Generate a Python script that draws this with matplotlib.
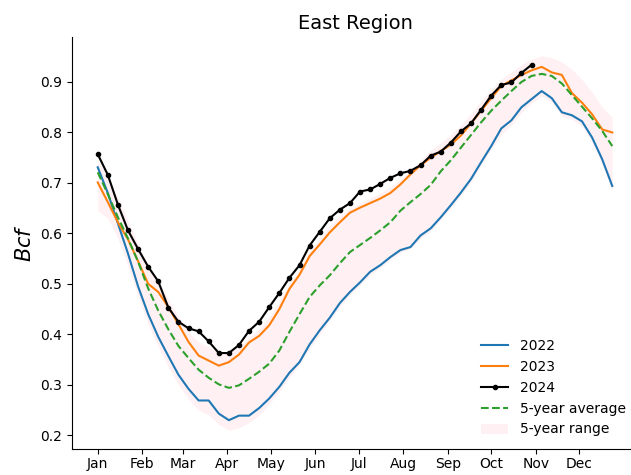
"""
East Region weekly storage-style chart: 2022, 2023, 2024 vs 5-year avg/range.
"""

import matplotlib
matplotlib.use("Agg")

import numpy as np
import matplotlib.pyplot as plt

# ── Data (weekly, Bcf) ───────────────────────────────────────────────────────
WEEK_DAYS = [1 + 7 * i for i in range(52)]   # day of year for each weekly point

Y2022 = [0.731, 0.680, 0.620, 0.560, 0.495, 0.440, 0.395, 0.357, 0.320, 0.292,
         0.269, 0.269, 0.243, 0.230, 0.239, 0.239, 0.254, 0.273, 0.296, 0.324,
         0.345, 0.380, 0.408, 0.433, 0.462, 0.484, 0.503, 0.524, 0.537, 0.553,
         0.567, 0.573, 0.596, 0.610, 0.632, 0.656, 0.681, 0.708, 0.741, 0.773,
         0.808, 0.824, 0.850, 0.866, 0.882, 0.868, 0.840, 0.834, 0.822, 0.790,
         0.747, 0.694]

Y2023 = [0.701, 0.662, 0.622, 0.588, 0.545, 0.500, 0.484, 0.454, 0.420, 0.385,
         0.358, 0.348, 0.338, 0.345, 0.360, 0.384, 0.397, 0.418, 0.450, 0.490,
         0.518, 0.555, 0.578, 0.602, 0.622, 0.641, 0.651, 0.660, 0.669, 0.680,
         0.697, 0.717, 0.735, 0.750, 0.763, 0.776, 0.794, 0.818, 0.843, 0.868,
         0.892, 0.903, 0.914, 0.923, 0.930, 0.919, 0.914, 0.878, 0.859, 0.836,
         0.806, 0.800]

Y2024 = [0.757, 0.716, 0.657, 0.606, 0.569, 0.534, 0.505, 0.453, 0.425, 0.412,
         0.406, 0.386, 0.363, 0.363, 0.379, 0.407, 0.425, 0.454, 0.482, 0.512,
         0.537, 0.576, 0.603, 0.630, 0.647, 0.660, 0.683, 0.687, 0.698, 0.710,
         0.719, 0.724, 0.735, 0.754, 0.762, 0.780, 0.802, 0.818, 0.845, 0.873,
         0.894, 0.899, 0.918, 0.934]

AVG5 = [0.721, 0.678, 0.632, 0.590, 0.544, 0.491, 0.447, 0.410, 0.377, 0.353,
        0.330, 0.314, 0.301, 0.294, 0.299, 0.312, 0.326, 0.342, 0.368, 0.405,
        0.440, 0.474, 0.497, 0.517, 0.541, 0.563, 0.577, 0.591, 0.606, 0.622,
        0.645, 0.662, 0.678, 0.696, 0.723, 0.745, 0.770, 0.795, 0.820, 0.843,
        0.863, 0.882, 0.900, 0.912, 0.916, 0.912, 0.897, 0.874, 0.851, 0.828,
        0.803, 0.773]

RANGE_HI = [0.745, 0.715, 0.670, 0.625, 0.580, 0.535, 0.505, 0.470, 0.435, 0.405,
            0.385, 0.375, 0.365, 0.365, 0.375, 0.395, 0.410, 0.435, 0.465, 0.500,
            0.530, 0.565, 0.590, 0.615, 0.635, 0.650, 0.660, 0.670, 0.680, 0.692,
            0.707, 0.725, 0.745, 0.765, 0.780, 0.795, 0.815, 0.838, 0.862, 0.885,
            0.905, 0.920, 0.935, 0.945, 0.952, 0.948, 0.940, 0.925, 0.905, 0.880,
            0.850, 0.830]

RANGE_LO = [0.645, 0.630, 0.590, 0.535, 0.475, 0.420, 0.375, 0.335, 0.300, 0.272,
            0.250, 0.240, 0.222, 0.210, 0.215, 0.225, 0.240, 0.262, 0.287, 0.315,
            0.340, 0.372, 0.400, 0.428, 0.455, 0.478, 0.498, 0.518, 0.532, 0.548,
            0.562, 0.570, 0.590, 0.605, 0.628, 0.650, 0.675, 0.702, 0.735, 0.767,
            0.795, 0.815, 0.840, 0.858, 0.872, 0.860, 0.832, 0.826, 0.812, 0.780,
            0.735, 0.685]

MONTH_DAYS   = [1, 32, 60, 91, 121, 152, 182, 213, 244, 274, 305, 335]
MONTH_LABELS = ["Jan", "Feb", "Mar", "Apr", "May", "Jun",
                "Jul", "Aug", "Sep", "Oct", "Nov", "Dec"]

# ── Plot ─────────────────────────────────────────────────────────────────────
fig = plt.figure(figsize=(6.31, 4.75), dpi=100)
# axes runs slightly past the right edge, as in the reference crop
ax = fig.add_axes([72 / 631, 26 / 475, 566 / 631, 412 / 475])

x = np.array(WEEK_DAYS)
ax.fill_between(x, RANGE_LO, RANGE_HI, color="pink", alpha=0.22, lw=0,
                label="5-year range")
ax.plot(x, Y2022, color="tab:blue", lw=1.5, label="2022")
ax.plot(x, Y2023, color="tab:orange", lw=1.5, label="2023")
ax.plot(x[:len(Y2024)], Y2024, color="black", lw=1.5, marker="o",
        markersize=3, label="2024")
ax.plot(x, AVG5, color="tab:green", lw=1.5, linestyle="--",
        label="5-year average")

ax.set_xticks(MONTH_DAYS)
ax.set_xticklabels(MONTH_LABELS)
ax.tick_params(axis="x", pad=2.5)
ax.set_ylabel("$Bcf$", fontsize=15)
ax.set_title("East Region", fontsize=14)
ax.spines["top"].set_visible(False)
ax.spines["right"].set_visible(False)

handles, labels = ax.get_legend_handles_labels()
order = [1, 2, 3, 4, 0]
ax.legend([handles[i] for i in order], [labels[i] for i in order],
          loc="lower right", frameon=False, fontsize=10)

fig.savefig("out.png", dpi=100)
